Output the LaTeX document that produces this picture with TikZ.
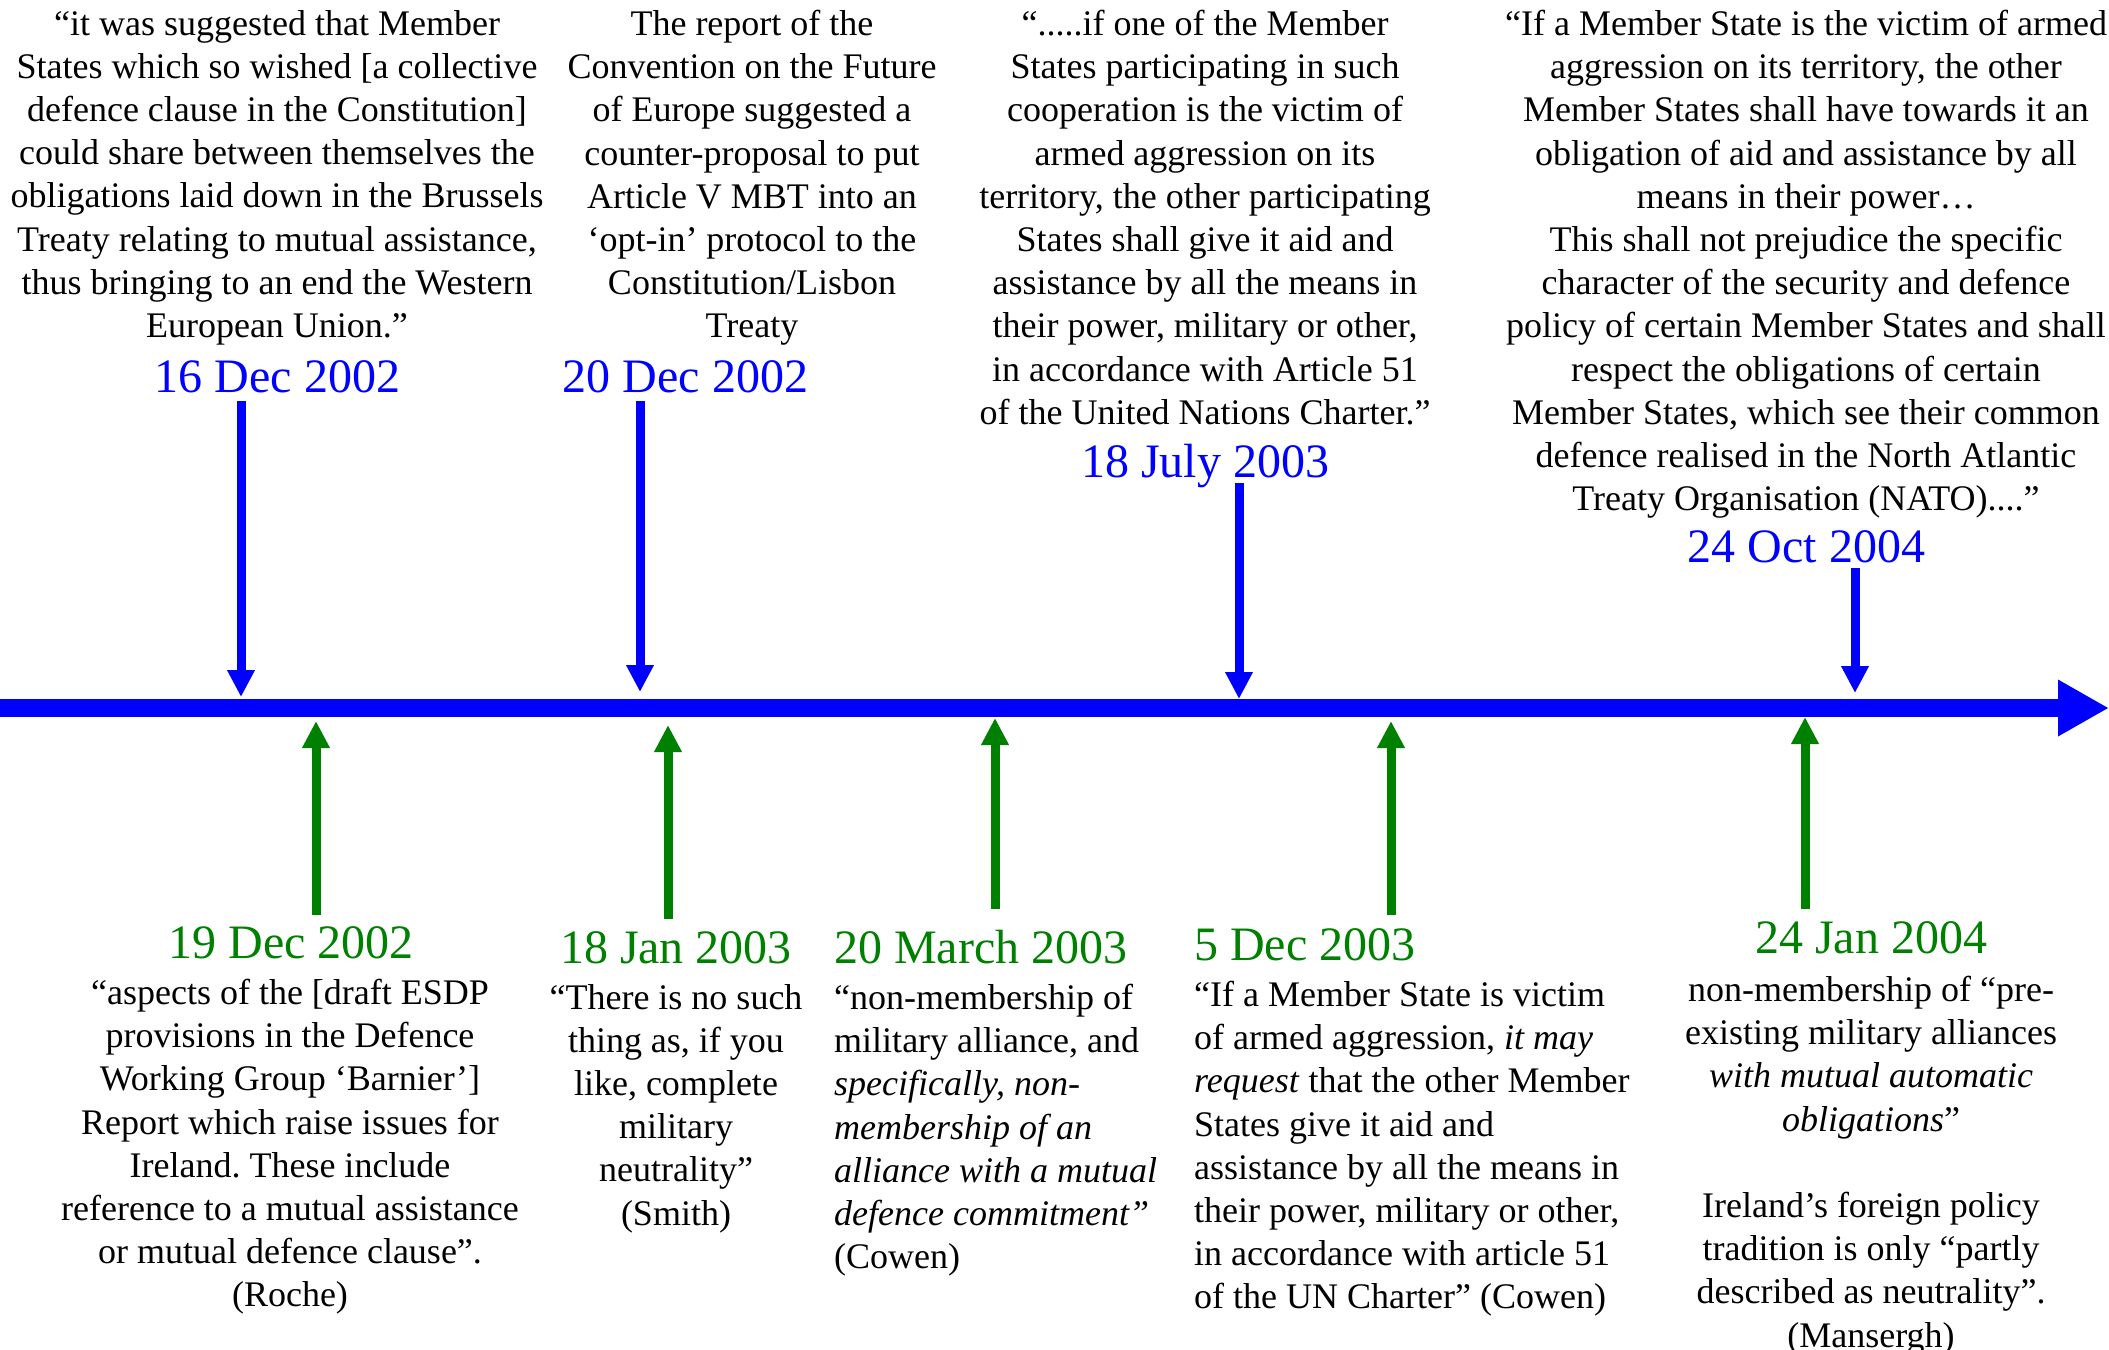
\documentclass[tikz,border=0pt]{standalone}
\usepackage{fontspec}
\setmainfont{Liberation Serif}
\frenchspacing
\usetikzlibrary{arrows.meta}
\definecolor{dategreen}{RGB}{0,128,0}
\tikzset{
  quote/.style={inner sep=0pt, align=center, font=\fontsize{36}{43.2}\selectfont},
  quoteleft/.style={quote, align=left},
  datebox/.style={inner sep=0pt, font=\fontsize{48}{56}\selectfont},
  downarrow/.style={blue, line width=9pt, -{Triangle[length=27pt,width=26pt]}},
  uparrow/.style={dategreen, line width=9pt, -{Triangle[length=27pt,width=26pt]}}
}
\begin{document}
\begin{tikzpicture}[x=1pt,y=-1pt]
\useasboundingbox (0,0) rectangle (2109,1349);
%% time line
\coordinate (start) at (0,708);
\coordinate (end) at (2109,708);
\draw[blue, line width=18pt, -{Triangle[length=51pt,width=53pt]}] (start) -- (end);
%% above the line
\node[quote, anchor=north] (q1) at (277,10) {“it was suggested that Member\\States which so wished [a collective\\defence clause in the Constitution]\\could share between themselves the\\obligations laid down in the Brussels\\Treaty relating to mutual assistance,\\thus bringing to an end the Western\\European Union.”};
\node[datebox, blue, anchor=base] (d1) at (277.5,392) {16 Dec 2002};
\node[quote, anchor=north] (q2) at (752,10) {The report of the\\Convention on the Future\\of Europe suggested a\\counter-proposal to put\\Article V MBT into an\\‘opt-in’ protocol to the\\Constitution/Lisbon\\Treaty};
\node[datebox, blue, anchor=base] (d2) at (685.5,392) {20 Dec 2002};
\node[quote, anchor=north] (q3) at (1205,10) {“.....if one of the Member\\States participating in such\\cooperation is the victim of\\armed aggression on its\\territory, the other participating\\States shall give it aid and\\assistance by all the means in\\their power, military or other,\\in accordance with Article 51\\of the United Nations Charter.”};
\node[datebox, blue, anchor=base] (d3) at (1205,477) {18 July 2003};
\node[quote, anchor=north] (q4) at (1806,10) {“If a Member State is the victim of armed\\aggression on its territory, the other\\Member States shall have towards it an\\obligation of aid and assistance by all\\means in their power…\\This shall not prejudice the specific\\character of the security and defence\\policy of certain Member States and shall\\respect the obligations of certain\\Member States, which see their common\\defence realised in the North Atlantic\\Treaty Organisation (NATO)....”};
\node[datebox, blue, anchor=base] (d4) at (1806.5,562) {24 Oct 2004};
\coordinate (a1) at (241,401);  \coordinate (b1) at (241,697);
\coordinate (a2) at (640,401);  \coordinate (b2) at (640,692);
\coordinate (a3) at (1239,483); \coordinate (b3) at (1239,699);
\coordinate (a4) at (1855,568); \coordinate (b4) at (1855,693);
\draw[downarrow] (a1) -- (b1);
\draw[downarrow] (a2) -- (b2);
\draw[downarrow] (a3) -- (b3);
\draw[downarrow] (a4) -- (b4);
%% below the line
\node[datebox, dategreen, anchor=base] (d5) at (291,958) {19 Dec 2002};
\node[quote, anchor=north] (q5) at (290,979) {“aspects of the [draft ESDP\\provisions in the Defence\\Working Group ‘Barnier’]\\Report which raise issues for\\Ireland. These include\\reference to a mutual assistance\\or mutual defence clause”.\\(Roche)};
\node[datebox, dategreen, anchor=base] (d6) at (676,963) {18 Jan 2003};
\node[quote, anchor=north] (q6) at (676,984) {“There is no such\\thing as, if you\\like, complete\\military\\neutrality”\\(Smith)};
\node[datebox, dategreen, anchor=base west] (d7) at (834,963) {20 March 2003};
\node[quoteleft, anchor=north west] (q7) at (834,984) {“non-membership of\\military alliance, and\\\textit{specifically, non-}\\\textit{membership of an}\\\textit{alliance with a mutual}\\\textit{defence commitment”}\\(Cowen)};
\node[datebox, dategreen, anchor=base west] (d8) at (1194,960) {5 Dec 2003};
\node[quoteleft, anchor=north west] (q8) at (1194,981) {“If a Member State is victim\\of armed aggression, \textit{it may}\\\textit{request} that the other Member\\States give it aid and\\assistance by all the means in\\their power, military or other,\\in accordance with article 51\\of the UN Charter” (Cowen)};
\node[datebox, dategreen, anchor=base] (d9) at (1871,953) {24 Jan 2004};
\node[quote, anchor=north] (q9) at (1871,976) {non-membership of “pre-\\existing military alliances\\\textit{with mutual automatic}\\\textit{obligations}”\\[43.2pt]Ireland’s foreign policy\\tradition is only “partly\\described as neutrality”.\\(Mansergh)};
\coordinate (e1) at (316,915);  \coordinate (f1) at (316,721);
\coordinate (e2) at (668,919);  \coordinate (f2) at (668,725);
\coordinate (e3) at (995,909);  \coordinate (f3) at (995,718);
\coordinate (e4) at (1391,915); \coordinate (f4) at (1391,721);
\coordinate (e5) at (1805,909); \coordinate (f5) at (1805,717);
\draw[uparrow] (e1) -- (f1);
\draw[uparrow] (e2) -- (f2);
\draw[uparrow] (e3) -- (f3);
\draw[uparrow] (e4) -- (f4);
\draw[uparrow] (e5) -- (f5);
\end{tikzpicture}
\end{document}
